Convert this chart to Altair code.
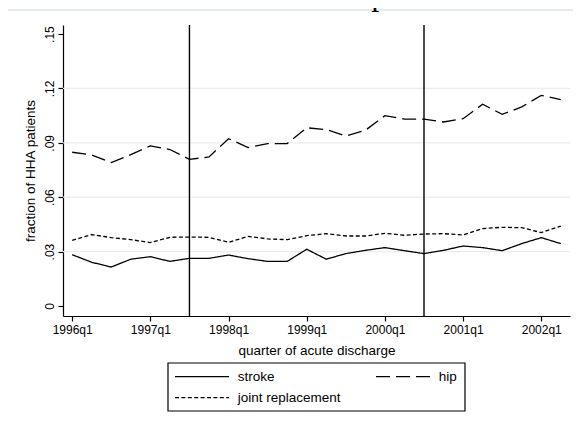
import json
import altair as alt
import pandas as pd

# ---------------- data ----------------
quarters = [
    "1996q1", "1996q2", "1996q3", "1996q4",
    "1997q1", "1997q2", "1997q3", "1997q4",
    "1998q1", "1998q2", "1998q3", "1998q4",
    "1999q1", "1999q2", "1999q3", "1999q4",
    "2000q1", "2000q2", "2000q3", "2000q4",
    "2001q1", "2001q2", "2001q3", "2001q4",
    "2002q1", "2002q2",
]
x_tick_labels = ["1996q1", "1997q1", "1998q1", "1999q1", "2000q1", "2001q1", "2002q1"]

stroke_vals = [0.0283, 0.0241, 0.0215, 0.0258, 0.0272, 0.0246, 0.0263, 0.0263,
               0.0281, 0.0261, 0.0246, 0.0246, 0.0313, 0.0258, 0.0289, 0.0307,
               0.0322, 0.0305, 0.0289, 0.0307, 0.0331, 0.0322, 0.0305, 0.0344,
               0.0377, 0.0344]
hip_vals = [0.0848, 0.0833, 0.0791, 0.0835, 0.0883, 0.0863, 0.0809, 0.0822,
            0.0923, 0.0874, 0.0896, 0.0896, 0.0983, 0.0973, 0.0938, 0.0969,
            0.1050, 0.1031, 0.1031, 0.1015, 0.1033, 0.1113, 0.1057, 0.1098,
            0.1162, 0.1138]
joint_vals = [0.0362, 0.0394, 0.0377, 0.0366, 0.0350, 0.0379, 0.0380, 0.0379,
              0.0351, 0.0384, 0.0370, 0.0366, 0.0388, 0.0399, 0.0386, 0.0386,
              0.0401, 0.0390, 0.0397, 0.0399, 0.0392, 0.0427, 0.0434, 0.0432,
              0.0405, 0.0441]

series_names = ["stroke", "hip", "joint replacement"]
series_values = [stroke_vals, hip_vals, joint_vals]
series_dashes = [[1, 0], [14, 6], [4, 2.4]]
event_quarters = ["1997q3", "2000q3"]
y_ticks = [0, 0.03, 0.06, 0.09, 0.12, 0.15]
y_tick_labels = ["0", ".03", ".06", ".09", ".12", ".15"]
grid_vals = [0.03, 0.06, 0.09, 0.12]
title_text = "c. Fraction two or more complications"
y_title = "fraction of HHA patients"
x_title = "quarter of acute discharge"

# ---------------- layout ----------------
W, H = 507, 291
SANS = "Liberation Sans"
SERIF = "Liberation Serif"
# legend key slots (symbol start x, row y) in plot-area pixels, one per series
legend_slots = [(112, 351.7), (313, 351.7), (112, 372.7)]
KEY_W, KEY_GAP = 54, 8.7

rows = []
for name, vals in zip(series_names, series_values):
    for q, v in zip(quarters, vals):
        rows.append({"quarter": q, "value": v, "series": name})
df = pd.DataFrame(rows)

x_scale = alt.Scale(type="point", domain=quarters, padding=0.47)
y_scale = alt.Scale(domain=[-0.00552, 0.15499], nice=False, zero=False)
dash_scale = alt.Scale(domain=series_names, range=series_dashes)
y_label_expr = json.dumps(y_tick_labels) + "[round(datum.value / 0.03)]"

x_axis = alt.Axis(
    values=x_tick_labels, labelAngle=0, title=x_title, tickSize=5,
    labelPadding=3, labelFontSize=12, titleFontSize=13.5,
    titleBaseline="alphabetic", titleAlign="center", titleX=W / 2, titleY=38,
    grid=False, labelOverlap=False,
)
y_axis = alt.Axis(
    values=y_ticks, labelExpr=y_label_expr, title=y_title, grid=False,
    labelAngle=270, labelAlign="center", labelBaseline="alphabetic",
    labelPadding=5, tickSize=5, labelFontSize=12, titleFontSize=13.5,
    titleAngle=270, titleAlign="center", titleBaseline="alphabetic",
    titleX=-29, titleY=H / 2, labelOverlap=False,
)

frame = alt.Chart(alt.Data(values=[{"k": 1}])).mark_rect(
    fillOpacity=0, stroke="#dbe5e8", strokeWidth=1.3
).encode(x=alt.value(-57), x2=alt.value(560), y=alt.value(-15), y2=alt.value(420))

legend_box = alt.Chart(alt.Data(values=[{"k": 1}])).mark_rect(
    fill="white", stroke="black", strokeWidth=1.2
).encode(x=alt.value(105), x2=alt.value(402), y=alt.value(338), y2=alt.value(386))

title_mark = alt.Chart(alt.Data(values=[{"t": title_text}])).mark_text(
    align="left", baseline="alphabetic", font=SERIF, fontSize=32, color="black"
).encode(x=alt.value(-56), y=alt.value(-20.5), text="t:N")

grid = alt.Chart(pd.DataFrame({"value": grid_vals})).mark_rule(
    color="#e6eef0", strokeWidth=1.2
).encode(y=alt.Y("value:Q", scale=y_scale, axis=y_axis))

vrules = alt.Chart(pd.DataFrame({"quarter": event_quarters})).mark_rule(
    color="black", strokeWidth=1.4
).encode(x=alt.X("quarter:O", scale=x_scale, axis=x_axis))

lines = alt.Chart(df).mark_line(color="black", strokeWidth=1.3).encode(
    x=alt.X("quarter:O", scale=x_scale, axis=x_axis),
    y=alt.Y("value:Q", scale=y_scale, axis=y_axis),
    strokeDash=alt.StrokeDash("series:N", scale=dash_scale, legend=None),
)

# legend keys: dash pattern comes from the same strokeDash scale as the lines
legend_layers = []
for name, (sx, sy) in zip(series_names, legend_slots):
    key_data = alt.Data(values=[{"series": name}])
    legend_layers.append(
        alt.Chart(key_data).mark_rule(color="black", strokeWidth=1.3).encode(
            x=alt.value(sx), x2=alt.value(sx + KEY_W), y=alt.value(sy),
            strokeDash=alt.StrokeDash("series:N", scale=dash_scale, legend=None),
        )
    )
    legend_layers.append(
        alt.Chart(key_data).mark_text(
            align="left", baseline="middle", font=SANS, fontSize=13.5, color="black"
        ).encode(x=alt.value(sx + KEY_W + KEY_GAP), y=alt.value(sy), text="series:N")
    )

chart = alt.layer(
    frame, legend_box, title_mark, grid, vrules, lines, *legend_layers
).properties(
    width=W, height=H,
    padding={"left": 55, "top": 17, "right": 3, "bottom": 103},
    autosize=alt.AutoSizeParams(type="none"),
    background="white",
).configure_view(stroke="transparent").configure_axis(
    domainColor="black", tickColor="black", labelColor="black", titleColor="black",
    labelFont=SANS, titleFont=SANS, titleFontWeight="normal",
    domainWidth=1.2, tickWidth=1.2,
)

chart.save("out.html", embed_options={"renderer": "svg", "actions": False})
